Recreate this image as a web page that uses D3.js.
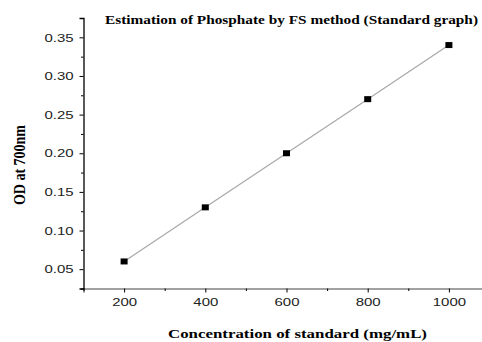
<!DOCTYPE html>
<html>
<head>
<meta charset="utf-8">
<script src="https://cdn.jsdelivr.net/npm/d3@7"></script>
<style>
  body { margin: 0; background: #fff; }
  svg { display: block; }
</style>
</head>
<body>
<div id="chart"></div>
<script>
// standard curve readings
const concentrations = [200, 400, 600, 800, 1000];
const odValues = [0.06, 0.13, 0.20, 0.27, 0.34];
const xTicks = [200, 400, 600, 800, 1000];
const yTicks = [0.05, 0.10, 0.15, 0.20, 0.25, 0.30, 0.35];

const width = 482, height = 342;
const serif = "'Liberation Serif', 'Times New Roman', serif";

const svg = d3.select("#chart").append("svg")
  .attr("width", width)
  .attr("height", height);

const x = d3.scaleLinear().domain([100, 1100]).range([83.5, 489.5]);
const y = d3.scaleLinear().domain([0.025, 0.375]).range([288.5, 18]);

// the original picture is stretched sideways, so widen the texts a bit
function widen(sel, factor) {
  sel.each(function () {
    const len = this.getComputedTextLength();
    d3.select(this)
      .attr("textLength", len * factor)
      .attr("lengthAdjust", "spacingAndGlyphs");
  });
}

// minor ticks
const xMinor = d3.range(100, 1101, 100).filter(v => !xTicks.includes(v));
const yMinor = d3.range(0.025, 0.376, 0.05);

const xAxis = svg.append("g")
  .attr("transform", `translate(0,${y(0.025)})`)
  .call(d3.axisBottom(x).tickValues(xTicks).tickSize(4).tickPadding(5).tickFormat(d3.format("d")));
xAxis.select(".domain").attr("stroke", "#444").attr("stroke-width", 1.2);

svg.append("g")
  .attr("transform", `translate(0,${y(0.025)})`)
  .call(d3.axisBottom(x).tickValues(xMinor).tickSize(2.5).tickFormat(""))
  .select(".domain").remove();

const yAxis = svg.append("g")
  .attr("transform", `translate(${x(100)},0)`)
  .call(d3.axisLeft(y).tickValues(yTicks).tickSize(4).tickPadding(6).tickFormat(d3.format(".2f")));
yAxis.select(".domain").attr("stroke", "#000").attr("stroke-width", 1.3);

svg.append("g")
  .attr("transform", `translate(${x(100)},0)`)
  .call(d3.axisLeft(y).tickValues(yMinor).tickSize(2.5).tickFormat(""))
  .select(".domain").remove();

svg.selectAll(".tick text")
  .style("font-family", "'Liberation Sans', Arial, sans-serif")
  .style("font-size", "11.5px")
  .attr("fill", "#222")
  .call(widen, 1.3);

// fitted line
const pts = concentrations.map((c, i) => [c, odValues[i]]);
svg.append("path")
  .datum(pts)
  .attr("fill", "none")
  .attr("stroke", "#a8a8a8")
  .attr("stroke-width", 1.2)
  .attr("d", d3.line().x(d => x(d[0])).y(d => y(d[1])));

svg.selectAll(".pt")
  .data(pts)
  .enter().append("rect")
  .attr("class", "pt")
  .attr("x", d => x(d[0]) - 3.5)
  .attr("y", d => y(d[1]) - 3)
  .attr("width", 7)
  .attr("height", 6)
  .attr("fill", "#000");

// labels
svg.append("text")
  .attr("x", 291.5)
  .attr("y", 24)
  .attr("text-anchor", "middle")
  .style("font-family", serif)
  .style("font-weight", "bold")
  .style("font-size", "13px")
  .text("Estimation of Phosphate by FS method (Standard graph)")
  .attr("textLength", 373)
  .attr("lengthAdjust", "spacingAndGlyphs");

svg.append("text")
  .attr("x", 297.5)
  .attr("y", 338)
  .attr("text-anchor", "middle")
  .style("font-family", serif)
  .style("font-weight", "bold")
  .style("font-size", "13.5px")
  .text("Concentration of standard (mg/mL)")
  .attr("textLength", 259)
  .attr("lengthAdjust", "spacingAndGlyphs");

svg.append("text")
  .attr("transform", "translate(25,165) scale(1.2,1) rotate(-90)")
  .attr("text-anchor", "middle")
  .style("font-family", serif)
  .style("font-weight", "bold")
  .style("font-size", "14px")
  .text("OD at 700nm");
</script>
</body>
</html>
